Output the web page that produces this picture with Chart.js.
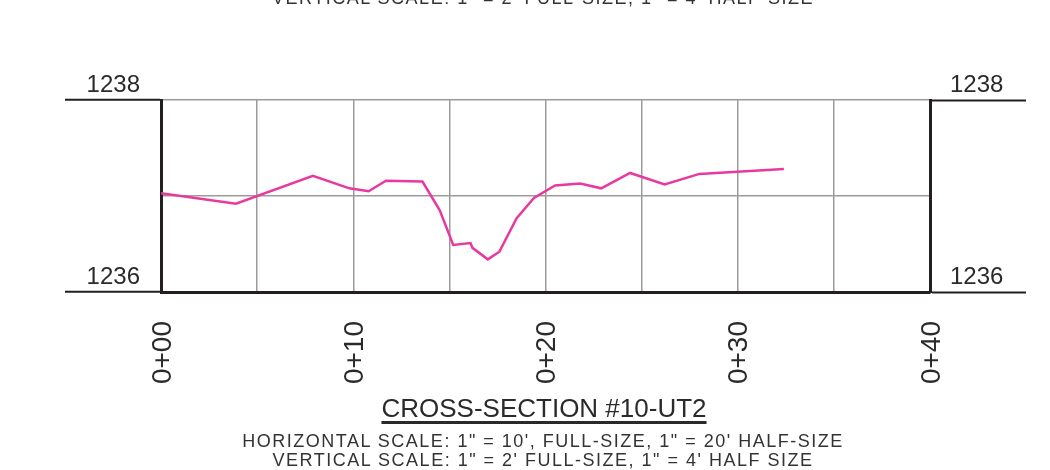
<!DOCTYPE html>
<html>
<head>
<meta charset="utf-8">
<script src="https://cdn.jsdelivr.net/npm/chart.js@4"></script>
<style>
  body { margin: 0; background: #fff; }
  #wrap { position: relative; width: 1050px; height: 470px; overflow: hidden; }
  .txt { position: absolute; left: 0; width: 1086px; text-align: center; color: #2a2a2a; white-space: nowrap; }
  .scale { font-family: "Liberation Sans", Arial, sans-serif; font-size: 18px; letter-spacing: 1.5px; color: #333; }
  #title { font-family: "Liberation Sans", Arial, sans-serif; font-size: 26px; top: 393px; width: 1088px; }
  #title span { text-decoration: underline; text-decoration-thickness: 3px; text-underline-offset: 4px; }
</style>
</head>
<body>
<div id="wrap">
  <canvas id="xsChart" width="1050" height="470"></canvas>
  <div class="txt scale" style="top:-12px">VERTICAL SCALE: 1" = 2' FULL-SIZE, 1" = 4' HALF-SIZE</div>
  <div class="txt" id="title"><span>CROSS-SECTION #10-UT2</span></div>
  <div class="txt scale" style="top:431px">HORIZONTAL SCALE: 1" = 10', FULL-SIZE, 1" = 20' HALF-SIZE</div>
  <div class="txt scale" style="top:450px">VERTICAL SCALE: 1" = 2' FULL-SIZE, 1" = 4' HALF SIZE</div>
</div>
<script>
// * data penampang (station ft, elevasi ft)
const stations = [0, 3.9, 7.9, 9.8, 10.8, 11.7, 13.6, 14.5, 15.2, 16.1, 16.2, 17.0, 17.6, 18.5, 19.4, 20.5, 21.8, 22.9, 24.4, 26.2, 28.0, 32.4];
const elevations = [1237.03, 1236.92, 1237.21, 1237.08, 1237.05, 1237.16, 1237.15, 1236.85, 1236.49, 1236.51, 1236.46, 1236.34, 1236.42, 1236.77, 1236.98, 1237.11, 1237.13, 1237.08, 1237.24, 1237.12, 1237.23, 1237.28];
const elevLabels = [1236, 1238];
const stationMin = 0;
const stationMax = 40;

const dark = "#231f20";
const gridGray = "#9b9b9b";

Chart.defaults.font.family = "'Liberation Sans', Arial, sans-serif";
Chart.defaults.color = "#2a2a2a";

const points = stations.map((s, i) => ({ x: s, y: elevations[i] }));

const yTickColor = (c) => (elevLabels.includes(c.tick.value) ? dark : "transparent");
const yCallback = (v) => (elevLabels.includes(v) ? String(v) : "");

// ? gambar chart
const xsCanvas = document.getElementById("xsChart").getContext("2d");
const xsChart = new Chart(xsCanvas, {
  type: "scatter",
  data: {
    datasets: [
      {
        data: points,
        showLine: true,
        borderColor: "#e8399f",
        borderWidth: 2.5,
        pointRadius: 0,
        tension: 0,
      },
    ],
  },
  options: {
    responsive: false,
    animation: false,
    devicePixelRatio: 1,
    layout: { padding: { left: 65, right: 24, top: 100, bottom: 78 } },
    plugins: { legend: { display: false }, tooltip: { enabled: false } },
    scales: {
      x: {
        type: "linear",
        min: stationMin,
        max: stationMax,
        afterFit: (s) => { s.height = 100; },
        ticks: {
          stepSize: 5,
          autoSkip: false,
          minRotation: 90,
          maxRotation: 90,
          padding: 29,
          labelOffset: 2,
          font: { size: 28 },
          callback: (v) => (v % 10 === 0 ? "0+" + String(v).padStart(2, "0") : ""),
        },
        grid: { color: gridGray, lineWidth: 1.5, drawTicks: false },
        border: { display: true, color: dark, width: 3 },
      },
      y: {
        position: "left",
        min: 1236,
        max: 1238,
        afterFit: (s) => { s.width = 96; },
        ticks: { stepSize: 1, padding: -75, labelOffset: -15, font: { size: 24 }, callback: yCallback },
        grid: { color: gridGray, lineWidth: 1.5, tickLength: 96, tickWidth: 2, tickColor: yTickColor },
        border: { display: true, color: dark, width: 3 },
      },
      y2: {
        position: "right",
        min: 1236,
        max: 1238,
        afterFit: (s) => { s.width = 96; },
        ticks: { stepSize: 1, padding: -76, labelOffset: -15, font: { size: 24 }, callback: yCallback },
        grid: { drawOnChartArea: false, tickLength: 96, tickWidth: 2, tickColor: yTickColor },
        border: { display: true, color: dark, width: 3 },
      },
    },
  },
});
</script>
</body>
</html>
